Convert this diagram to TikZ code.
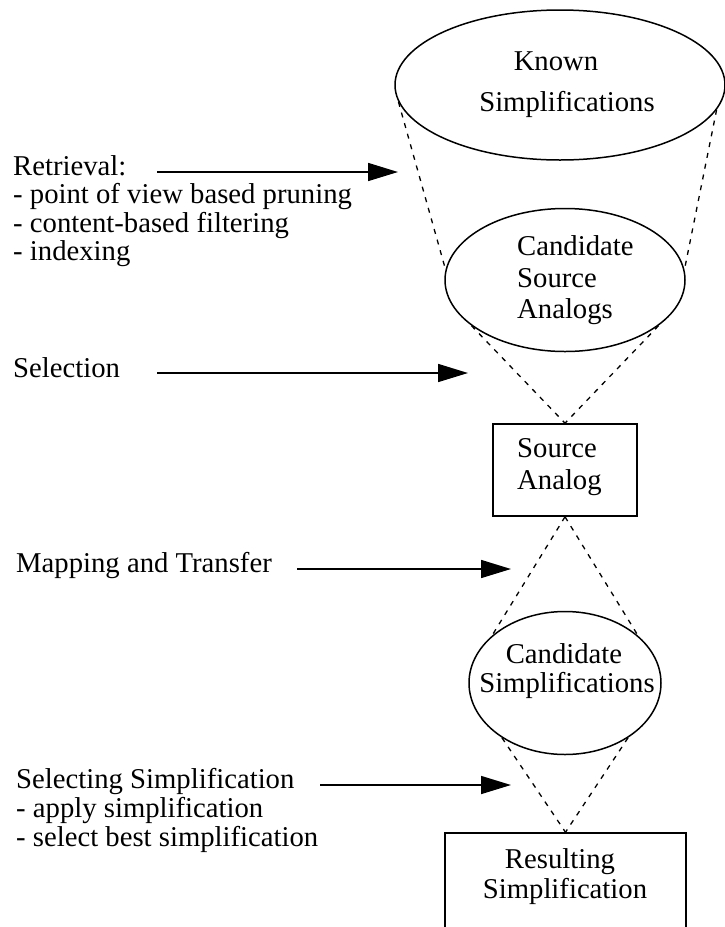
\documentclass[tikz,border=0pt]{standalone}
\usepackage{fontspec}
\setmainfont{Liberation Serif}
\usetikzlibrary{shapes.geometric,arrows.meta}
\begin{document}
\begin{tikzpicture}[x=1pt,y=-1pt,
  txt/.style={inner sep=0pt,font=\fontsize{28.7}{28.5}\selectfont},
  oval/.style={draw,ellipse,line width=1.5pt,inner sep=0pt},
  boxn/.style={draw,rectangle,line width=1.6pt,inner sep=0pt},
  dsh/.style={line width=1.3pt,dash pattern=on 5pt off 6pt},
  arr/.style={line width=1.6pt,-{Triangle[length=30pt,width=18pt]}}]
\clip (0,0) rectangle (725,927);
% shapes
\node[oval,minimum width=330pt,minimum height=150pt] (known) at (560,85) {};
\node[oval,minimum width=240pt,minimum height=143pt] (csa) at (565,280) {};
\node[boxn,minimum width=144pt,minimum height=92pt] (sa) at (565,470) {};
\node[oval,minimum width=192pt,minimum height=143pt] (cs) at (565,683) {};
\node[boxn,minimum width=241pt,minimum height=130pt] (rs) at (565.5,898) {};
% node texts
\node[txt,anchor=base] (k1) at (556,70) {Known};
\node[txt,anchor=base] (k2) at (567,111) {Simplifications};
\node[txt,anchor=base west] (c1) at (517,255) {Candidate};
\node[txt,anchor=base west] (c2) at (517,287) {Source};
\node[txt,anchor=base west] (c3) at (517,318) {Analogs};
\node[txt,anchor=base west] (s1) at (517,457) {Source};
\node[txt,anchor=base west] (s2) at (517,489) {Analog};
\node[txt,anchor=base] (d1) at (564,663) {Candidate};
\node[txt,anchor=base] (d2) at (567,692) {Simplifications};
\node[txt,anchor=base] (r1) at (560,868) {Resulting};
\node[txt,anchor=base] (r2) at (565,898) {Simplification};
% dashed funnels
\draw[dsh] (known.186) -- (csa.175);
\draw[dsh] (known.351) -- (csa.5);
\draw[dsh] (csa.206) -- (sa.north);
\draw[dsh] (csa.334) -- (sa.north);
\draw[dsh] (sa.south) -- (cs.147);
\draw[dsh] (sa.south) -- (cs.33);
\draw[dsh] (cs.221) -- (rs.north);
\draw[dsh] (cs.319) -- (rs.north);
% left texts
\node[txt,anchor=base west] (t1) at (13,175) {Retrieval:};
\node[txt,anchor=base west] (t2) at (13,203.5) {- point of view based pruning};
\node[txt,anchor=base west] (t3) at (13,232) {- content-based filtering};
\node[txt,anchor=base west] (t4) at (13,260.5) {- indexing};
\node[txt,anchor=base west] (u1) at (13,377) {Selection};
\node[txt,anchor=base west] (m1) at (16,572) {Mapping and Transfer};
\node[txt,anchor=base west] (v1) at (16,788) {Selecting Simplification};
\node[txt,anchor=base west] (v2) at (16,817) {- apply simplification};
\node[txt,anchor=base west] (v3) at (16,846) {- select best simplification};
% arrows
\coordinate (a1s) at (157,172); \coordinate (a1e) at (398,172);
\coordinate (a2s) at (157,373); \coordinate (a2e) at (468,373);
\coordinate (a3s) at (297,569); \coordinate (a3e) at (511,569);
\coordinate (a4s) at (320,785); \coordinate (a4e) at (511,785);
\draw[arr] (a1s) -- (a1e);
\draw[arr] (a2s) -- (a2e);
\draw[arr] (a3s) -- (a3e);
\draw[arr] (a4s) -- (a4e);
\end{tikzpicture}
\end{document}
